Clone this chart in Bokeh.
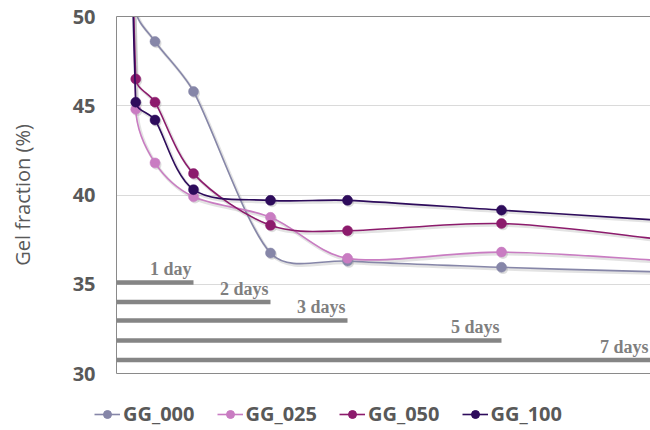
import numpy as np
from bokeh.plotting import figure
from bokeh.layouts import column
from bokeh.models import Range1d, LinearAxis, FixedTicker, Legend, LegendItem
from bokeh.core.properties import value
from bokeh.embed import file_html
from bokeh.resources import INLINE

# ---------------- data ----------------
days = [0, 0.25, 0.5, 1, 2, 3, 5, 7]
gg_000 = [100, 50.4, 48.6, 45.8, 36.75, 36.3, 35.95, 35.7]
gg_025 = [100, 44.8, 41.8, 39.9, 38.75, 36.45, 36.8, 36.35]
gg_050 = [100, 46.5, 45.2, 41.2, 38.3, 38.0, 38.4, 37.55]
gg_100 = [100, 45.2, 44.2, 40.3, 39.7, 39.7, 39.15, 38.6]
series_names = ["GG_000", "GG_025", "GG_050", "GG_100"]
series_colors = ["#8686a8", "#c97cc2", "#8c1b6c", "#2e0c5c"]

bar_days = [1, 2, 3, 5, 7]
bar_levels = [35.1, 34.0, 32.97, 31.85, 30.75]
bar_labels = ["1 day", "2 days", "3 days", "5 days", "7 days"]

y_ticks = [30, 35, 40, 45, 50]
y_label = "Gel fraction (%)"

# ---------------- layout ----------------
W, H = 650, 390
BL, BR, BT, BB = 116, 0, 16, 17
x_start, x_end = 0.0, 6.935
y_start, y_end = 30.0, 50.0
sx = (W - BL - BR) / (x_end - x_start)
sy = (H - BT - BB) / (y_end - y_start)

p = figure(width=W, height=H, output_backend="svg", toolbar_location=None,
           x_range=Range1d(x_start, x_end), y_range=Range1d(y_start, y_end),
           min_border_left=BL, min_border_right=BR, min_border_top=BT,
           min_border_bottom=BB, outline_line_color=None,
           background_fill_color="white", border_fill_color="white")

# axes
p.yaxis.ticker = FixedTicker(ticks=y_ticks)
p.yaxis.axis_line_color = "#8a8a8a"
p.yaxis.major_tick_line_color = None
p.yaxis.minor_tick_line_color = None
p.yaxis.major_tick_out = 0
p.yaxis.major_label_standoff = 21
p.yaxis.major_label_text_font = "Open Sans"
p.yaxis.major_label_text_font_size = "20px"
p.yaxis.major_label_text_font_style = "bold"
p.yaxis.major_label_text_color = "#595959"
p.yaxis.axis_label = y_label
p.yaxis.axis_label_text_font = "Open Sans"
p.yaxis.axis_label_text_font_size = "20px"
p.yaxis.axis_label_text_font_style = "normal"
p.yaxis.axis_label_text_color = "#595959"
p.yaxis.axis_label_standoff = 34

p.xaxis.ticker = FixedTicker(ticks=[])
p.xaxis.axis_line_color = "#8a8a8a"
p.xaxis.major_tick_out = 0
p.xaxis.major_label_standoff = 0
top_axis = LinearAxis(ticker=FixedTicker(ticks=[]), axis_line_color="#8a8a8a",
                      major_tick_out=0, major_label_standoff=0)
p.add_layout(top_axis, "above")

p.xgrid.grid_line_color = None
p.ygrid.ticker = FixedTicker(ticks=y_ticks)
p.ygrid.grid_line_color = "#dadada"
p.ygrid.grid_line_width = 1


def smooth(xs, ys, k=1/6, cap=1/3):
    P = np.column_stack([np.asarray(xs, float) * sx, np.asarray(ys, float) * sy])
    n = len(P)
    out = {k_: [] for k_ in ("x0", "y0", "x1", "y1", "cx0", "cy0", "cx1", "cy1")}
    for i in range(n - 1):
        a, b = P[i], P[i + 1]
        pa = P[i - 1] if i > 0 else a
        nb = P[i + 2] if i + 2 < n else b
        L = cap * np.hypot(*(b - a))
        t1 = (b - pa) * k
        t2 = (nb - a) * k
        for t in (t1, t2):
            m = np.hypot(*t)
            if m > L and m > 0:
                t *= L / m
        c1, c2 = a + t1, b - t2
        out["x0"].append(a[0] / sx); out["y0"].append(a[1] / sy)
        out["x1"].append(b[0] / sx); out["y1"].append(b[1] / sy)
        out["cx0"].append(c1[0] / sx); out["cy0"].append(c1[1] / sy)
        out["cx1"].append(c2[0] / sx); out["cy1"].append(c2[1] / sy)
    return out


# annotation bars
p.segment(x0=[0] * len(bar_days), x1=bar_days, y0=bar_levels, y1=bar_levels,
          line_color="#858585", line_width=4.5)
label_x = [min(d, x_end) for d in bar_days]
p.text(x=label_x, y=bar_levels, text=bar_labels, text_align="right",
       text_baseline="alphabetic", x_offset=-2, y_offset=-13,
       text_font=value("Liberation Serif"), text_font_style="bold",
       text_font_size="18px", text_color="#7f7f7f")

all_series = [gg_000, gg_025, gg_050, gg_100]
dx_sh, dy_sh = 1.5 / sx, -1.8 / sy
# shadows
for ys in all_series:
    seg = smooth(days, ys)
    p.bezier(x0=[v + dx_sh for v in seg["x0"]], y0=[v + dy_sh for v in seg["y0"]],
             x1=[v + dx_sh for v in seg["x1"]], y1=[v + dy_sh for v in seg["y1"]],
             cx0=[v + dx_sh for v in seg["cx0"]], cy0=[v + dy_sh for v in seg["cy0"]],
             cx1=[v + dx_sh for v in seg["cx1"]], cy1=[v + dy_sh for v in seg["cy1"]],
             line_color="#b0b0b0", line_alpha=0.35, line_width=3)
for ys in all_series:
    p.scatter([d + dx_sh for d in days], [v + dy_sh for v in ys], size=10,
              fill_color="#a0a0a0", fill_alpha=0.35, line_color=None)

for name, ys, col in zip(series_names, all_series, series_colors):
    seg = smooth(days, ys)
    p.bezier(**seg, line_color=col, line_width=1.6)
    p.scatter(days, ys, size=10, fill_color=col, line_color=col, line_width=0.5)

# ---------------- legend strip ----------------
lf = figure(width=W, height=40, output_backend="svg", toolbar_location=None,
            x_range=Range1d(0, 1), y_range=Range1d(0, 1),
            x_axis_location=None, y_axis_location=None,
            min_border_left=0, min_border_right=0, min_border_top=0,
            min_border_bottom=0, outline_line_color=None,
            background_fill_color="white", border_fill_color="white")
lf.grid.visible = False
p.frame_align = False
lf.frame_align = False
items = []
for name, col in zip(series_names, series_colors):
    ln = lf.line(x=[-5, -4], y=[-5, -4], line_color=col, line_width=1.6)
    sc = lf.scatter(x=[-5], y=[-5], size=10, fill_color=col, line_color=col)
    items.append(LegendItem(label=name, renderers=[ln, sc]))
legend = Legend(items=items, orientation="horizontal", location=(94, 3),
                glyph_width=26, glyph_height=20, label_height=20,
                label_standoff=3, spacing=22,
                padding=0, margin=0, border_line_color=None,
                background_fill_alpha=0,
                label_text_font="Open Sans", label_text_font_size="20px",
                label_text_font_style="bold", label_text_color="#595959")
lf.add_layout(legend, "center")

layout = column(p, lf, spacing=0)
open("out.html", "w").write(file_html(layout, INLINE))
